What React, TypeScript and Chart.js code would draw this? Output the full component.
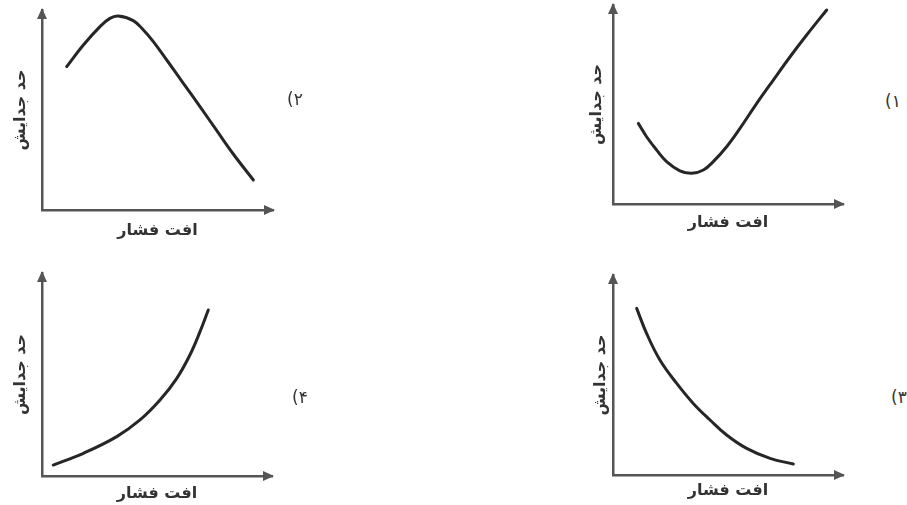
import React, { useEffect, useRef } from "react";
import { Chart, registerables } from "chart.js";

Chart.register(...registerables);

// ---- text ----
const X_TITLE = "افت فشار";
const Y_TITLE = "حد جدایش";
const PANEL_DIGITS = ["۱", "۲", "۳", "۴"];

// ---- data (abstract units, both axes 0..10) ----
const AXIS_MIN = 0;
const AXIS_MAX = 10;

// (1) top-right: minimum then rising
const curve1X = [1.1, 1.46, 1.9, 2.33, 2.91, 3.42, 3.93, 4.36, 4.94, 5.52, 6.25, 6.97, 7.7, 8.42, 9.29];
const curve1Y = [4.05, 3.38, 2.71, 2.13, 1.67, 1.54, 1.71, 2.13, 2.88, 3.8, 5.06, 6.23, 7.4, 8.49, 9.75];

// (2) top-left: maximum then falling
const curve2X = [1.07, 1.79, 2.51, 2.94, 3.3, 3.95, 4.39, 4.82, 5.4, 6.12, 6.84, 7.56, 8.28, 9.15];
const curve2Y = [7.17, 8.25, 9.17, 9.58, 9.7, 9.47, 9.0, 8.42, 7.5, 6.33, 5.17, 3.98, 2.8, 1.5];

// (3) bottom-right: decreasing, convex
const curve3X = [1.03, 1.46, 2.04, 2.77, 3.49, 4.22, 4.94, 5.81, 6.83, 7.84];
const curve3Y = [8.33, 7.08, 5.75, 4.58, 3.58, 2.75, 2.0, 1.33, 0.83, 0.55];

// (4) bottom-left: increasing, convex
const curve4X = [0.49, 1.8, 3.25, 4.26, 5.13, 5.86, 6.43, 6.87, 7.23];
const curve4Y = [0.54, 1.12, 1.94, 2.76, 3.74, 4.81, 5.96, 7.11, 8.18];

// ---- layout ----
type PanelCfg = {
  xs: number[];
  ys: number[];
  left: number;
  top: number;
  w: number;
  h: number;
  padTop: number;
  padRight: number;
  yWidth: number;
  xHeight: number;
  yTitlePad: number;
  xTitlePad: number;
};

const PANELS: PanelCfg[] = [
  { xs: curve2X, ys: curve2Y, left: 0, top: 0, w: 300, h: 250, padTop: 10, padRight: 27, yWidth: 42, xHeight: 40, yTitlePad: 11, xTitlePad: 9.5 },
  { xs: curve1X, ys: curve1Y, left: 570, top: 0, w: 290, h: 245, padTop: 5, padRight: 17, yWidth: 43, xHeight: 41, yTitlePad: 17, xTitlePad: 12.5 },
  { xs: curve4X, ys: curve4Y, left: 0, top: 255, w: 300, h: 250, padTop: 18, padRight: 28, yWidth: 42, xHeight: 29, yTitlePad: 11, xTitlePad: 2 },
  { xs: curve3X, ys: curve3Y, left: 570, top: 255, w: 290, h: 250, padTop: 20, padRight: 17, yWidth: 43, xHeight: 30, yTitlePad: 21, xTitlePad: 4.5 },
];

const LABEL_POS = [
  { digit: PANEL_DIGITS[1], x: 295, y: 99 },
  { digit: PANEL_DIGITS[0], x: 893, y: 101 },
  { digit: PANEL_DIGITS[3], x: 300, y: 397 },
  { digit: PANEL_DIGITS[2], x: 899, y: 397 },
];

const AXIS_COLOR = "#555555";
const CURVE_COLOR = "#262626";
const TEXT_COLOR = "#333333";
const FONT = "'DejaVu Sans', sans-serif";

const arrowPlugin = {
  id: "axisArrows",
  afterDraw(chart: any) {
    const { ctx, chartArea } = chart;
    const { left, right, top, bottom } = chartArea;
    const L = 11;
    const W = 5;
    ctx.save();
    ctx.fillStyle = AXIS_COLOR;
    ctx.beginPath();
    ctx.moveTo(left, top - 2);
    ctx.lineTo(left - W, top + L - 2);
    ctx.lineTo(left + W, top + L - 2);
    ctx.closePath();
    ctx.fill();
    ctx.beginPath();
    ctx.moveTo(right + 2, bottom);
    ctx.lineTo(right - L + 2, bottom - W);
    ctx.lineTo(right - L + 2, bottom + W);
    ctx.closePath();
    ctx.fill();
    ctx.restore();
  },
};

function Panel({ cfg }: { cfg: PanelCfg }) {
  const ref = useRef<HTMLCanvasElement | null>(null);
  useEffect(() => {
    if (!ref.current) return;
    const titleFont = { family: FONT, size: 16, weight: "bold" as const };
    const chart = new Chart(ref.current, {
      type: "line",
      data: {
        datasets: [
          {
            data: cfg.xs.map((x, i) => ({ x, y: cfg.ys[i] })),
            borderColor: CURVE_COLOR,
            borderWidth: 3,
            pointRadius: 0,
            tension: 0.4,
            borderCapStyle: "round",
            borderJoinStyle: "round",
            fill: false,
          } as any,
        ],
      },
      options: {
        responsive: false,
        animation: false,
        layout: { padding: { top: cfg.padTop, right: cfg.padRight, left: 0, bottom: 0 } },
        plugins: { legend: { display: false }, tooltip: { enabled: false } },
        scales: {
          x: {
            type: "linear",
            min: AXIS_MIN,
            max: AXIS_MAX,
            grid: { display: false },
            border: { display: true, color: AXIS_COLOR, width: 2.5 },
            ticks: { display: false },
            title: {
              display: true,
              text: X_TITLE,
              color: TEXT_COLOR,
              font: titleFont,
              padding: { top: 0, bottom: cfg.xTitlePad },
            },
            afterFit: (s: any) => {
              s.height = cfg.xHeight;
            },
          },
          y: {
            type: "linear",
            min: AXIS_MIN,
            max: AXIS_MAX,
            grid: { display: false },
            border: { display: true, color: AXIS_COLOR, width: 2.5 },
            ticks: { display: false },
            title: {
              display: true,
              text: Y_TITLE,
              color: TEXT_COLOR,
              font: titleFont,
              padding: { top: cfg.yTitlePad, bottom: 0 },
            },
            afterFit: (s: any) => {
              s.width = cfg.yWidth;
            },
          },
        },
      } as any,
      plugins: [arrowPlugin],
    });
    return () => chart.destroy();
  }, [cfg]);
  return (
    <canvas
      ref={ref}
      width={cfg.w}
      height={cfg.h}
      style={{ position: "absolute", left: cfg.left, top: cfg.top, width: cfg.w, height: cfg.h }}
    />
  );
}

export default function App() {
  return (
    <div
      style={{
        position: "fixed",
        left: 0,
        top: 0,
        width: 907,
        height: 505,
        background: "#ffffff",
        overflow: "hidden",
      }}
    >
      {PANELS.map((p, i) => (
        <Panel key={i} cfg={p} />
      ))}
      {LABEL_POS.map((l, i) => (
        <div
          key={i}
          style={{
            position: "absolute",
            left: l.x,
            top: l.y,
            transform: "translate(-50%, -50%)",
            display: "flex",
            flexDirection: "row",
            alignItems: "center",
            fontFamily: FONT,
            fontSize: 17,
            color: TEXT_COLOR,
            whiteSpace: "nowrap",
          }}
        >
          <span>(</span>
          <span>{l.digit}</span>
        </div>
      ))}
    </div>
  );
}
